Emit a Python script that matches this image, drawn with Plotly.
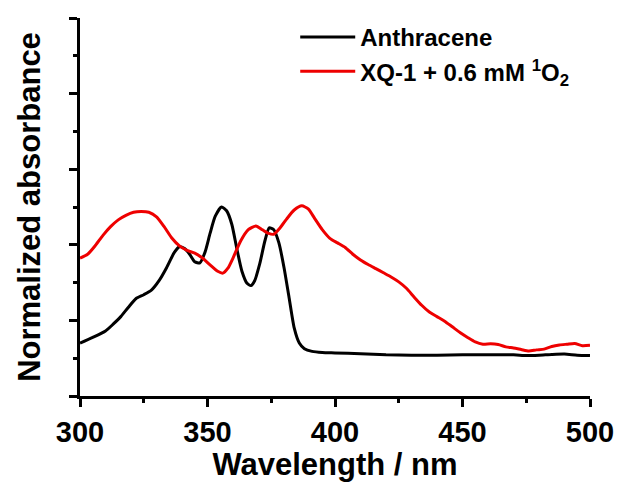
import plotly.graph_objects as go

# Absorption spectra, normalized
wl_anthracene = [300, 305, 310, 313, 316, 319, 322, 325, 328, 331, 334, 337, 339, 341, 343,
                 345, 347, 349, 351, 353, 355.5, 357.5, 359.5, 361.5, 363.5, 365.5, 367,
                 368.5, 370.5, 372.5, 374.2, 376, 378, 380, 382, 384, 386, 388, 391, 395,
                 400, 410, 420, 430, 440, 450, 460, 470, 475, 480, 485, 490, 495, 500]
abs_anthracene = [0.140, 0.155, 0.172, 0.190, 0.210, 0.235, 0.258, 0.268, 0.280, 0.305,
                  0.340, 0.380, 0.395, 0.390, 0.375, 0.355, 0.352, 0.380, 0.430, 0.475,
                  0.500, 0.490, 0.455, 0.390, 0.330, 0.298, 0.292, 0.305, 0.350, 0.410,
                  0.445, 0.440, 0.405, 0.340, 0.260, 0.180, 0.140, 0.125, 0.118, 0.115,
                  0.114, 0.112, 0.109, 0.108, 0.108, 0.109, 0.109, 0.109, 0.107, 0.108,
                  0.110, 0.111, 0.108, 0.107]

wl_xq1 = [300, 303, 306, 309, 312, 315, 318, 321, 324, 327, 330, 333, 336, 339, 342, 345,
          348, 351, 354, 356, 358, 360, 363, 366, 369, 371.5, 374, 376, 378.5, 381, 384,
          387, 389.5, 392, 395, 398, 401, 404, 407, 410, 413, 416, 419, 422, 425, 428,
          431, 434, 437, 440, 443, 446, 449, 452, 455, 458, 461, 464, 467, 470, 473, 476,
          479, 482, 485, 488, 491, 494, 497, 500]
abs_xq1 = [0.365, 0.375, 0.398, 0.425, 0.448, 0.466, 0.478, 0.486, 0.488, 0.486, 0.474,
           0.448, 0.418, 0.397, 0.385, 0.378, 0.365, 0.347, 0.330, 0.325, 0.338, 0.365,
           0.410, 0.440, 0.450, 0.440, 0.430, 0.428, 0.445, 0.468, 0.492, 0.503, 0.495,
           0.470, 0.440, 0.417, 0.405, 0.393, 0.375, 0.360, 0.348, 0.337, 0.326, 0.315,
           0.302, 0.285, 0.262, 0.240, 0.222, 0.210, 0.198, 0.183, 0.168, 0.155, 0.143,
           0.137, 0.138, 0.136, 0.130, 0.127, 0.123, 0.119, 0.122, 0.124, 0.131, 0.135,
           0.137, 0.139, 0.133, 0.134]

FONT = "Liberation Sans, Arial, sans-serif"

fig = go.Figure()
fig.add_trace(go.Scatter(x=wl_anthracene, y=abs_anthracene, mode="lines",
                         name="Anthracene",
                         line=dict(color="#000000", width=3, shape="spline", smoothing=0.6)))
fig.add_trace(go.Scatter(x=wl_xq1, y=abs_xq1, mode="lines",
                         name="XQ-1 + 0.6 mM <sup>1</sup>O<sub>2</sub>",
                         line=dict(color="#ee0000", width=3, shape="spline", smoothing=0.6)))

axis_common = dict(
    showline=True, linecolor="#000000", linewidth=3, mirror=False,
    showgrid=False, zeroline=False, automargin=False,
    ticks="outside", ticklen=8, tickwidth=3, tickcolor="#000000",
)

fig.update_layout(
    width=617, height=482,
    margin=dict(l=80, r=27, t=18, b=86),
    paper_bgcolor="white", plot_bgcolor="white",
    font=dict(family=FONT, color="#000000", weight="bold"),
    xaxis=dict(
        range=[300, 500], dtick=50, tick0=300,
        tickfont=dict(size=29, family=FONT, weight="bold"),
        minor=dict(dtick=25, ticks="outside", ticklen=4, tickwidth=3, tickcolor="#000000"),
        title=dict(text="Wavelength / nm", font=dict(size=31, family=FONT, weight="bold"),
                   standoff=8),
        **axis_common,
    ),
    yaxis=dict(
        range=[0, 1], dtick=0.2, tick0=0, showticklabels=False,
        minor=dict(dtick=0.1, ticks="outside", ticklen=4, tickwidth=3, tickcolor="#000000"),
        title=dict(text="Normalized absorbance", font=dict(size=31, family=FONT, weight="bold"),
                   standoff=20),
        **axis_common,
    ),
    legend=dict(
        x=0.422, y=1.008, xanchor="left", yanchor="top",
        bgcolor="rgba(0,0,0,0)",
        font=dict(size=24, family=FONT, weight="bold"),
        itemwidth=55, tracegroupgap=0,
    ),
    showlegend=True,
)

fig.write_html("out.html")
